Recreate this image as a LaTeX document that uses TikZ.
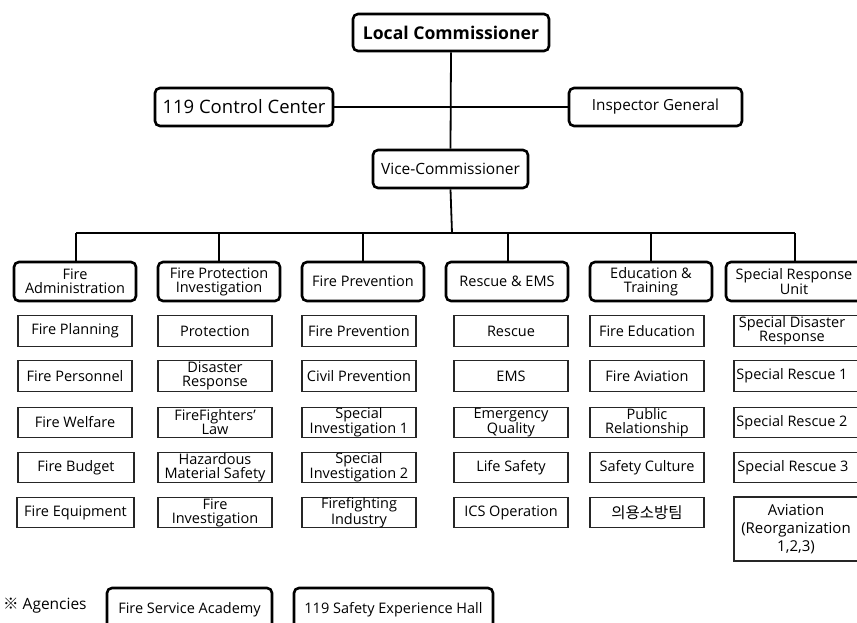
\documentclass[tikz,border=0pt]{standalone}
\usepackage{fontspec}
\setmainfont{Open Sans}
\newfontfamily\krfont{Noto Sans CJK KR}
\begin{document}
\begin{tikzpicture}[x=1pt,y=-1pt,
  base/.style={font=\fontsize{14.5}{14}\selectfont, align=center, inner sep=0pt},
  topbox/.style={base, draw, line width=2.6pt, rounded corners=5pt},
  dept/.style={topbox, minimum width=122pt, minimum height=39pt},
  sub/.style={base, draw=black!85, line width=1.1pt, minimum width=114pt, minimum height=30.5pt},
  wide/.style={sub, minimum width=128pt},
  conn/.style={line width=1.8pt}]
\clip (0,0) rectangle (857,622);
% top level
\node[topbox, minimum width=196pt, minimum height=37pt, font=\fontsize{17.6}{18}\selectfont\bfseries] (lc) at (451,32.5) {Local Commissioner};
\node[topbox, minimum width=178pt, minimum height=38pt, font=\fontsize{18.5}{18}\selectfont] (cc) at (244,107) {119 Control Center};
\node[topbox, minimum width=173pt, minimum height=38pt, font=\fontsize{15.3}{16}\selectfont] (ig) at (655.5,107) {Inspector General};
\node[topbox, minimum width=155pt, minimum height=38pt, font=\fontsize{15.5}{16}\selectfont] (vc) at (450.5,169) {Vice-Commissioner};
\coordinate (bus) at (452,233);
\coordinate (busL) at (76,233);
\coordinate (busR) at (795,233);
\draw[conn] (lc.south) -- (vc.north);
\draw[conn] (cc.east) -- (ig.west);
\draw[conn] (vc.south) -- (bus);
\draw[conn] (busL) -- (busR);
% departments
\node[dept] (d1) at (75,281.5) {Fire\\Administration};
\node[dept] (d2) at (219,281.5) {Fire Protection\\Investigation};
\node[dept] (d3) at (363,281.5) {Fire Prevention};
\node[dept] (d4) at (507,281.5) {Rescue \& EMS};
\node[dept] (d5) at (651,281.5) {Education \&\\Training};
\node[dept, minimum width=136pt] (d6) at (794,281.5) {Special Response\\Unit};
\foreach \x in {76,219,363,508,651,795}{
  \draw[conn] (\x,233) -- (\x,262);
}
% column 1
\node[sub] (a1) at (75,331) {Fire Planning};
\node[sub] (a2) at (75,376) {Fire Personnel};
\node[sub] (a3) at (75,422.5) {Fire Welfare};
\node[sub, minimum width=116pt] (a4) at (76,467.5) {Fire Budget};
\node[sub, minimum width=117pt] (a5) at (75.5,512.5) {Fire Equipment};
% column 2
\node[sub] (b1) at (215,331) {Protection};
\node[sub] (b2) at (215,376) {Disaster\\Response};
\node[sub] (b3) at (215,422.5) {FireFighters’\\Law};
\node[sub] (b4) at (215,467.5) {Hazardous\\Material Safety};
\node[sub] (b5) at (215,512.5) {Fire\\Investigation};
% column 3
\node[sub] (c1) at (359,331) {Fire Prevention};
\node[sub] (c2) at (359,376) {Civil Prevention};
\node[sub] (c3) at (359,422.5) {Special\\Investigation 1};
\node[sub] (c4) at (359,467.5) {Special\\Investigation 2};
\node[sub] (c5) at (359,512.5) {Firefighting\\Industry};
% column 4
\node[sub] (e1) at (511,331) {Rescue};
\node[sub] (e2) at (511,376) {EMS};
\node[sub] (e3) at (511,422.5) {Emergency\\Quality};
\node[sub] (e4) at (511,467.5) {Life Safety};
\node[sub] (e5) at (511,512.5) {ICS Operation};
% column 5
\node[sub] (f1) at (647,331) {Fire Education};
\node[sub] (f2) at (647,376) {Fire Aviation};
\node[sub] (f3) at (647,422.5) {Public\\Relationship};
\node[sub] (f4) at (647,467.5) {Safety Culture};
\node[sub, font=\fontsize{15.5}{16}\selectfont\krfont] (f5) at (647,512.5) {의용소방팀};
% column 6 (boxes run past the right edge)
\node[wide] (g1) at (798,331) {};
\node[wide] (g2) at (798,376) {};
\node[wide] (g3) at (798,422.5) {};
\node[wide] (g4) at (798,467.5) {};
\node[wide, minimum height=64pt] (g5) at (798,529) {};
\node[base] (g1t) at (792,331) {Special Disaster\\Response};
\node[base] (g2t) at (792,376) {Special Rescue 1};
\node[base] (g3t) at (792,422.5) {Special Rescue 2};
\node[base] (g4t) at (793,467.5) {Special Rescue 3};
\node[base, font=\fontsize{15}{18}\selectfont] (g5t) at (796,529) {Aviation\\(Reorganization\\1,2,3)};
% agencies
\node[base, anchor=west, font=\fontsize{15.5}{16}\selectfont] (ag) at (3,606) {{\krfont ※} Agencies};
\node[topbox, minimum width=165pt, minimum height=44pt] (fsa) at (189.5,610) {\raisebox{4pt}{Fire Service Academy}};
\node[topbox, minimum width=199pt, minimum height=44pt] (seh) at (393.5,610) {\raisebox{4pt}{119 Safety Experience Hall}};
\end{tikzpicture}
\end{document}
